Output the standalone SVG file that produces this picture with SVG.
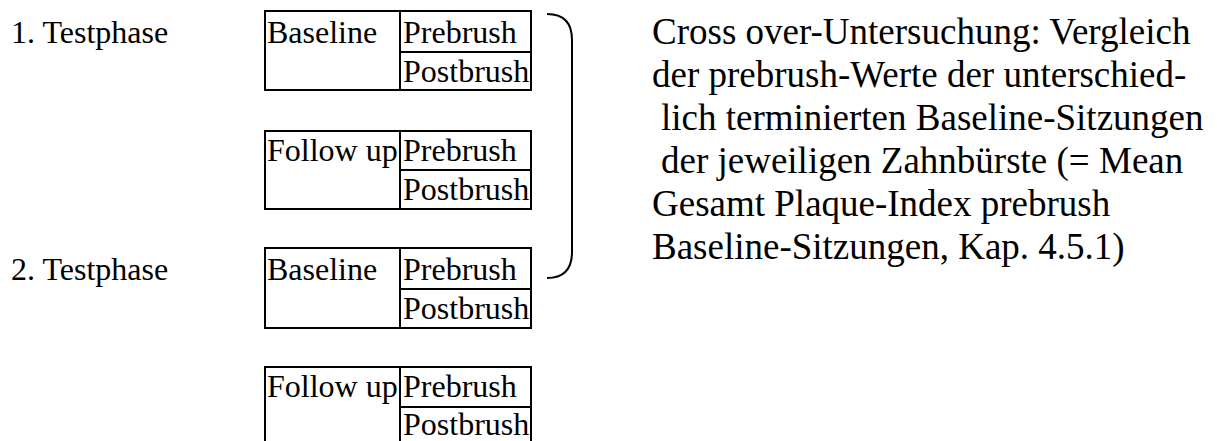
<svg xmlns="http://www.w3.org/2000/svg" width="1217" height="441" viewBox="0 0 1217 441">
  <style>
    .frame { fill: none; stroke: #000; stroke-width: 2; }
    .lbl { font-family: "Liberation Serif", "Times New Roman", serif; font-size: 32px; fill: #000; }
    .note { font-family: "Liberation Serif", "Times New Roman", serif; font-size: 37px; fill: #000; }
  </style>
  <rect width="1217" height="441" fill="#fff"/>

  <!-- phase labels -->
  <g id="phase1"><text class="lbl" x="11" y="43">1. Testphase</text></g>
  <g id="phase2"><text class="lbl" x="11" y="280">2. Testphase</text></g>

  <!-- session tables -->
  <g id="baseline1">
    <rect class="frame" x="265" y="11" width="266" height="79"/>
    <line class="frame" x1="400" y1="11" x2="400" y2="90"/>
    <line class="frame" x1="400" y1="52" x2="531" y2="52"/>
    <text class="lbl" x="267" y="43">Baseline</text>
    <text class="lbl" x="403" y="43">Prebrush</text>
    <text class="lbl" x="403" y="82">Postbrush</text>
  </g>
  <g id="followup1">
    <rect class="frame" x="265" y="131" width="266" height="78"/>
    <line class="frame" x1="400" y1="131" x2="400" y2="209"/>
    <line class="frame" x1="400" y1="170" x2="531" y2="170"/>
    <text class="lbl" x="267" y="161">Follow up</text>
    <text class="lbl" x="403" y="161">Prebrush</text>
    <text class="lbl" x="403" y="200">Postbrush</text>
  </g>
  <g id="baseline2">
    <rect class="frame" x="265" y="248" width="266" height="80"/>
    <line class="frame" x1="400" y1="248" x2="400" y2="328"/>
    <line class="frame" x1="400" y1="289" x2="531" y2="289"/>
    <text class="lbl" x="267" y="280">Baseline</text>
    <text class="lbl" x="403" y="280">Prebrush</text>
    <text class="lbl" x="403" y="319">Postbrush</text>
  </g>
  <g id="followup2">
    <path class="frame" d="M265 445 V367 H531 V445"/>
    <line class="frame" x1="400" y1="367" x2="400" y2="445"/>
    <line class="frame" x1="400" y1="407" x2="531" y2="407"/>
    <text class="lbl" x="267" y="397">Follow up</text>
    <text class="lbl" x="403" y="397">Prebrush</text>
    <text class="lbl" x="403" y="435">Postbrush</text>
  </g>

  <!-- bracket grouping the prebrush values -->
  <g id="connectors">
    <path class="frame" d="M547 14 Q572 14 572 40 V252 Q572 278 547 278"/>
  </g>

  <!-- explanatory note -->
  <g id="note">
    <text class="note" x="652" y="44">Cross over-Untersuchung: Vergleich</text>
    <text class="note" x="652" y="87">der prebrush-Werte der unterschied-</text>
    <text class="note" x="661" y="130">lich terminierten Baseline-Sitzungen</text>
    <text class="note" x="661" y="173">der jeweiligen Zahnbürste (= Mean</text>
    <text class="note" x="652" y="216">Gesamt Plaque-Index prebrush</text>
    <text class="note" x="652" y="259">Baseline-Sitzungen, Kap. 4.5.1)</text>
  </g>
</svg>
